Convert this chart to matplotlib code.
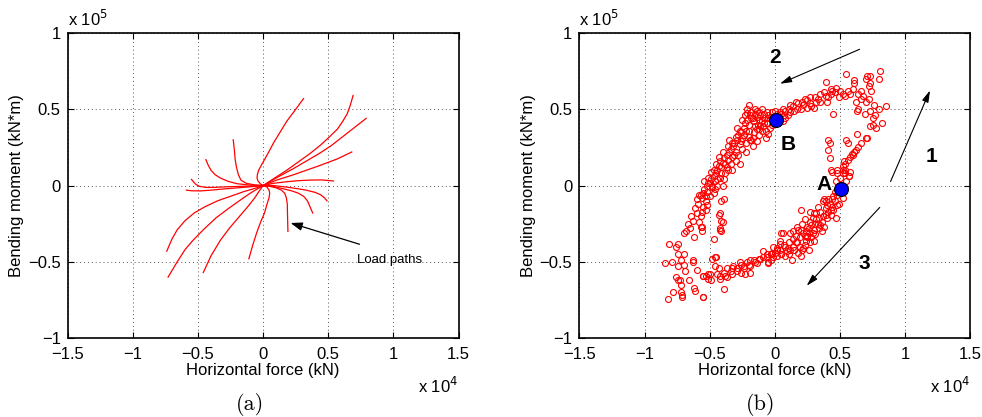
import matplotlib.pyplot as plt

# Load paths, panel (a): force in x 10^4 kN, moment in x 10^5 kN*m
path_ends = ["p1", "p2", "p3", "p4", "p5", "p6", "p7", "p8",
             "p9", "p10", "p11", "p12", "p13", "p14", "p15", "p16"]
load_paths = {
    "p1": [(0, 0), (-0.02, 0.01), (-0.04, 0.03), (-0.047, 0.05), (-0.045, 0.07), (-0.035, 0.10), (-0.01, 0.14),
           (0.03, 0.20), (0.08, 0.28), (0.13, 0.35), (0.18, 0.42), (0.25, 0.50), (0.31, 0.57)],
    "p2": [(0, 0), (0.08, 0.045), (0.18, 0.10), (0.27, 0.155), (0.36, 0.21), (0.44, 0.265), (0.51, 0.32),
           (0.57, 0.37), (0.61, 0.42), (0.645, 0.47), (0.67, 0.53), (0.69, 0.59)],
    "p3": [(0, 0), (0.1, 0.05), (0.23, 0.11), (0.33, 0.16), (0.43, 0.21), (0.52, 0.26), (0.61, 0.32),
           (0.70, 0.38), (0.79, 0.44)],
    "p4": [(0, 0), (0.1, 0.035), (0.23, 0.07), (0.33, 0.10), (0.43, 0.13), (0.57, 0.175), (0.68, 0.22)],
    "p5": [(0, 0), (0.08, 0.015), (0.18, 0.025), (0.27, 0.032), (0.36, 0.036), (0.45, 0.037), (0.54, 0.03)],
    "p6": [(0, 0), (0.08, 0.0), (0.18, -0.01), (0.26, -0.02), (0.33, -0.03), (0.40, -0.045), (0.44, -0.06),
           (0.47, -0.08), (0.49, -0.10)],
    "p7": [(0, 0), (0.07, -0.005), (0.15, -0.02), (0.22, -0.035), (0.27, -0.05), (0.31, -0.07), (0.34, -0.10),
           (0.36, -0.14), (0.38, -0.18)],
    "p8": [(0, 0), (0.05, -0.005), (0.10, -0.015), (0.14, -0.03), (0.165, -0.05), (0.178, -0.08),
           (0.185, -0.12), (0.187, -0.20), (0.19, -0.30)],
    "p9": [(0, 0), (0.03, -0.01), (0.045, -0.03), (0.05, -0.05), (0.045, -0.08), (0.03, -0.12), (0.01, -0.18),
           (-0.02, -0.24), (-0.05, -0.31), (-0.08, -0.39), (-0.11, -0.48)],
    "p10": [(0, 0), (-0.03, -0.035), (-0.06, -0.075), (-0.11, -0.13), (-0.18, -0.20), (-0.26, -0.28),
            (-0.33, -0.36), (-0.40, -0.46), (-0.46, -0.57)],
    "p11": [(0, 0), (-0.04, -0.02), (-0.09, -0.045), (-0.15, -0.08), (-0.25, -0.14), (-0.36, -0.21),
            (-0.46, -0.29), (-0.54, -0.36), (-0.60, -0.42), (-0.66, -0.50), (-0.73, -0.60)],
    "p12": [(0, 0), (-0.07, -0.02), (-0.15, -0.04), (-0.25, -0.07), (-0.35, -0.10), (-0.45, -0.14),
            (-0.53, -0.18), (-0.60, -0.23), (-0.66, -0.29), (-0.70, -0.35), (-0.74, -0.43)],
    "p13": [(0, 0), (-0.1, -0.008), (-0.2, -0.015), (-0.3, -0.022), (-0.4, -0.03), (-0.48, -0.035),
            (-0.55, -0.034), (-0.59, -0.03)],
    "p14": [(0, 0), (-0.12, -0.004), (-0.28, -0.008), (-0.38, -0.012), (-0.44, -0.012), (-0.49, -0.005),
            (-0.52, 0.01), (-0.55, 0.04)],
    "p15": [(0, 0), (-0.1, 0.003), (-0.2, 0.012), (-0.27, 0.028), (-0.33, 0.05), (-0.37, 0.072),
            (-0.40, 0.10), (-0.42, 0.13), (-0.44, 0.17)],
    "p16": [(0, 0), (-0.07, 0.005), (-0.13, 0.015), (-0.17, 0.035), (-0.19, 0.07), (-0.205, 0.12),
            (-0.215, 0.17), (-0.222, 0.24), (-0.23, 0.30)],
}

# Measured (force, moment) points, panel (b)
upper_left = [
    (-0.56, -0.08), (-0.55, -0.05), (-0.53, -0.10), (-0.58, -0.06), (-0.54, -0.02), (-0.52, -0.04),
    (-0.50, -0.07), (-0.52, 0.00), (-0.50, 0.02), (-0.48, 0.00), (-0.49, 0.04), (-0.47, 0.06),
    (-0.51, 0.05), (-0.46, 0.03), (-0.45, 0.08), (-0.44, 0.10), (-0.47, 0.10), (-0.43, 0.13),
    (-0.45, 0.14), (-0.41, 0.12), (-0.42, 0.16), (-0.40, 0.15), (-0.38, 0.14), (-0.39, 0.18),
    (-0.37, 0.20), (-0.36, 0.17), (-0.35, 0.22), (-0.33, 0.19), (-0.34, 0.24), (-0.32, 0.26),
    (-0.30, 0.22), (-0.31, 0.28), (-0.29, 0.30), (-0.27, 0.27), (-0.28, 0.33), (-0.26, 0.35),
    (-0.25, 0.31), (-0.24, 0.38), (-0.22, 0.36), (-0.23, 0.41), (-0.21, 0.43), (-0.20, 0.40),
    (-0.19, 0.46), (-0.17, 0.44), (-0.16, 0.42), (-0.18, 0.48), (-0.14, 0.45), (-0.12, 0.43),
    (-0.13, 0.40), (-0.10, 0.42), (-0.11, 0.46), (-0.08, 0.44), (-0.09, 0.39), (-0.06, 0.41),
    (-0.05, 0.44), (-0.04, 0.38), (-0.02, 0.40), (-0.03, 0.45), (-0.07, 0.36), (-0.14, 0.37),
    (-0.12, 0.33), (-0.20, 0.32), (-0.22, 0.28), (-0.25, 0.24), (-0.28, 0.20), (-0.34, 0.14),
    (-0.38, 0.08), (-0.42, 0.05), (-0.40, 0.00), (-0.36, 0.10), (-0.30, 0.16), (-0.18, 0.30),
    (-0.16, 0.35), (-0.10, 0.36), (-0.05, 0.34), (-0.02, 0.48), (-0.06, 0.48), (-0.15, 0.50),
    (-0.21, 0.50), (-0.20, 0.53), (-0.02, 0.44), (0.03, 0.45), (0.05, 0.47), (-0.05, 0.46),
    (0.00, 0.49), (-0.08, 0.47), (0.08, 0.44), (0.06, 0.42), (-0.10, 0.50), (-0.12, 0.48),
    (-0.15, 0.47), (-0.18, 0.44), (-0.14, 0.29), (-0.07, 0.31), (-0.19, 0.30), (-0.17, 0.31),
    (-0.21, 0.475), (-0.14, 0.49), (-0.33, 0.28), (-0.36, 0.26), (-0.30, 0.32), (-0.27, 0.36),
    (-0.44, 0.04), (-0.46, -0.02), (-0.41, 0.08), (-0.37, 0.12), (-0.31, 0.20), (-0.26, 0.29),
    (-0.24, 0.33), (-0.23, 0.46), (-0.20, 0.36), (-0.15, 0.39), (-0.11, 0.39), (-0.08, 0.41),
    (-0.51, 0.014), (-0.48, -0.008), (-0.57, -0.06), (-0.53, -0.07), (-0.55, -0.14), (-0.60, -0.18),
    (-0.57, -0.20), (-0.63, -0.23), (-0.67, -0.25), (-0.70, -0.31), (-0.62, -0.34), (-0.65, -0.28),
    (-0.59, -0.12), (-0.61, -0.15), (-0.52, -0.13), (-0.56, -0.17), (-0.58, -0.24), (-0.68, -0.30),
    (-0.49, 0.09), (-0.43, 0.19), (-0.40, 0.22), (-0.35, 0.30), (-0.29, 0.38), (-0.25, 0.43),
    (-0.47, -0.05), (-0.44, 0.00), (-0.39, 0.04), (-0.33, 0.10), (-0.27, 0.14), (-0.22, 0.22),
    (-0.17, 0.26), (-0.12, 0.37), (-0.54, 0.03), (-0.60, -0.09), (-0.64, -0.20), (-0.53, -0.16),
]

upper_right = [
    (0.07, 0.46), (0.12, 0.48), (0.17, 0.50), (0.21, 0.55), (0.25, 0.56), (0.27, 0.54),
    (0.31, 0.58), (0.35, 0.55), (0.39, 0.59), (0.43, 0.60), (0.46, 0.61), (0.50, 0.62),
    (0.54, 0.59), (0.43, 0.63), (0.38, 0.61), (0.32, 0.55), (0.27, 0.58), (0.22, 0.53),
    (0.18, 0.54), (0.14, 0.52), (0.11, 0.50), (0.08, 0.49), (0.04, 0.48), (0.02, 0.47),
    (0.20, 0.50), (0.25, 0.51), (0.30, 0.51), (0.35, 0.60), (0.40, 0.55), (0.45, 0.47),
    (0.44, 0.62), (0.52, 0.60), (0.49, 0.58), (0.28, 0.52), (0.16, 0.55), (0.12, 0.53),
    (0.10, 0.46), (0.06, 0.50), (0.15, 0.49), (0.23, 0.57), (0.33, 0.57), (0.41, 0.58),
    (0.47, 0.64), (0.56, 0.62), (0.58, 0.60), (0.60, 0.63), (0.64, 0.60), (0.66, 0.57),
    (0.55, 0.73), (0.71, 0.72), (0.73, 0.72), (0.81, 0.75), (0.80, 0.70), (0.61, 0.69),
    (0.61, 0.67), (0.72, 0.65), (0.73, 0.67), (0.66, 0.62), (0.39, 0.68), (0.72, 0.57),
    (0.70, 0.55), (0.76, 0.53), (0.85, 0.52), (0.80, 0.50), (0.64, 0.50), (0.63, 0.49),
    (0.73, 0.49), (0.69, 0.47), (0.75, 0.44), (0.75, 0.40), (0.73, 0.39), (0.82, 0.41),
    (0.74, 0.62), (0.70, 0.70), (0.77, 0.46), (0.78, 0.38), (0.68, 0.59), (0.62, 0.55),
]

right_branch = [
    (0.63, 0.34), (0.70, 0.31), (0.71, 0.31), (0.66, 0.28), (0.64, 0.25), (0.62, 0.23),
    (0.59, 0.21), (0.58, 0.19), (0.56, 0.17), (0.53, 0.16), (0.52, 0.13), (0.55, 0.30),
    (0.56, 0.28), (0.41, 0.30), (0.42, 0.28), (0.41, 0.23), (0.42, 0.18), (0.43, 0.10),
    (0.57, 0.06), (0.58, 0.09), (0.54, 0.10), (0.48, 0.10), (0.52, 0.08), (0.54, 0.08),
    (0.57, 0.06), (0.52, 0.10), (0.48, 0.08), (0.44, 0.09), (0.60, 0.20), (0.61, 0.22),
    (0.54, 0.14), (0.50, 0.05), (0.47, 0.03), (0.55, 0.03), (0.49, -0.02), (0.46, -0.04),
]

lower_right = [
    (0.48, -0.06), (0.46, -0.10), (0.49, -0.12), (0.44, -0.14), (0.41, -0.17), (0.39, -0.15),
    (0.35, -0.17), (0.40, -0.21), (0.34, -0.21), (0.30, -0.18), (0.27, -0.17), (0.36, -0.24),
    (0.31, -0.25), (0.27, -0.24), (0.23, -0.22), (0.21, -0.25), (0.30, -0.29), (0.26, -0.28),
    (0.25, -0.33), (0.22, -0.31), (0.18, -0.29), (0.17, -0.27), (0.14, -0.30), (0.27, -0.37),
    (0.23, -0.39), (0.21, -0.42), (0.20, -0.46), (0.14, -0.35), (0.11, -0.37), (0.07, -0.39),
    (0.06, -0.31), (0.12, -0.31), (0.14, -0.40), (0.10, -0.41), (0.04, -0.42), (0.00, -0.44),
    (-0.01, -0.40), (-0.03, -0.45), (-0.06, -0.47), (-0.09, -0.43), (0.13, -0.49), (0.26, -0.31),
    (0.34, -0.28), (0.38, -0.27), (0.43, -0.19), (0.45, -0.16), (0.48, -0.13), (0.52, -0.08),
    (0.47, -0.21), (0.38, -0.09), (0.37, -0.10), (0.41, -0.09), (0.39, -0.10), (0.20, -0.16),
    (0.33, -0.14), (0.37, -0.20), (0.32, -0.22), (0.28, -0.26), (0.24, -0.30), (0.19, -0.34),
    (0.16, -0.37), (0.09, -0.43), (0.05, -0.45), (0.02, -0.42), (0.05, -0.31), (0.04, -0.36),
    (0.17, -0.37), (0.25, -0.34), (0.26, -0.42), (0.30, -0.36), (0.20, -0.29), (0.22, -0.41),
    (0.42, -0.12), (0.44, -0.09), (0.40, -0.13), (0.29, -0.31), (0.33, -0.25), (0.36, -0.30),
    (0.45, -0.07), (0.43, -0.16), (0.39, -0.19), (0.35, -0.26), (0.31, -0.32), (0.28, -0.34),
    (0.24, -0.36), (0.19, -0.40), (0.15, -0.42), (0.11, -0.45), (0.08, -0.46), (0.16, -0.33),
    (0.29, -0.21), (0.32, -0.18), (0.25, -0.27), (0.23, -0.33), (0.18, -0.44), (0.02, -0.46),
]

lower_left = [
    (-0.46, -0.47), (-0.53, -0.59), (-0.51, -0.58), (-0.55, -0.73), (-0.39, -0.68), (-0.43, -0.54),
    (-0.42, -0.59), (-0.39, -0.57), (-0.37, -0.60), (-0.34, -0.56), (-0.32, -0.53), (-0.29, -0.56),
    (-0.26, -0.52), (-0.24, -0.54), (-0.21, -0.50), (-0.19, -0.53), (-0.16, -0.49), (-0.14, -0.51),
    (-0.11, -0.48), (-0.09, -0.47), (-0.05, -0.50), (-0.03, -0.45), (-0.01, -0.47), (0.02, -0.42),
    (0.05, -0.45), (0.08, -0.40), (0.12, -0.42), (-0.46, -0.53), (-0.33, -0.54), (-0.29, -0.54),
    (-0.27, -0.50), (-0.24, -0.53), (-0.20, -0.52), (-0.19, -0.49), (-0.15, -0.50), (-0.12, -0.48),
    (-0.06, -0.45), (-0.02, -0.44), (0.02, -0.41), (0.04, -0.38), (-0.03, -0.49), (-0.05, -0.51),
    (-0.26, -0.57), (-0.23, -0.58), (-0.19, -0.57), (-0.33, -0.58), (-0.44, -0.58), (-0.42, -0.61),
    (-0.38, -0.59), (-0.37, -0.54), (-0.50, -0.58), (-0.51, -0.61), (-0.55, -0.59), (-0.49, -0.62),
    (-0.81, -0.38), (-0.74, -0.38), (-0.76, -0.40), (-0.74, -0.45), (-0.70, -0.45), (-0.84, -0.51),
    (-0.79, -0.50), (-0.72, -0.49), (-0.74, -0.53), (-0.70, -0.52), (-0.69, -0.56), (-0.63, -0.49),
    (-0.63, -0.50), (-0.74, -0.62), (-0.73, -0.62), (-0.72, -0.65), (-0.66, -0.62), (-0.78, -0.70),
    (-0.82, -0.74), (-0.72, -0.70), (-0.71, -0.72), (-0.62, -0.67), (-0.61, -0.69), (-0.55, -0.73),
    (-0.55, -0.59), (-0.71, -0.73), (-0.76, -0.60), (-0.60, -0.55), (-0.45, -0.47),
]

inner_points = [
    (-0.42, -0.18), (-0.40, -0.24), (-0.42, -0.29), (-0.57, -0.27), (-0.56, -0.30), (-0.43, -0.19),
    (-0.41, -0.23), (-0.42, -0.28), (-0.41, -0.30), (-0.56, -0.27), (-0.39, -0.09), (-0.41, -0.10),
    (-0.47, -0.35), (-0.48, -0.48),
]

point_a = (0.51, -0.02)
point_b = (0.01, 0.43)

xticks = [-1.5, -1, -0.5, 0, 0.5, 1, 1.5]
yticks = [-1, -0.5, 0, 0.5, 1]
tick_labels_x = ["\u22121.5", "\u22121", "\u22120.5", "0", "0.5", "1", "1.5"]
tick_labels_y = ["\u22121", "\u22120.5", "0", "0.5", "1"]

plt.rcParams['font.family'] = ['Liberation Sans', 'DejaVu Sans']

fig = plt.figure(figsize=(9.82, 4.17), dpi=100)
ax1 = fig.add_axes([0.069, 0.189, 0.398, 0.732])
ax2 = fig.add_axes([0.590, 0.189, 0.398, 0.732])

for ax in (ax1, ax2):
    ax.set_xlim(-1.5, 1.5)
    ax.set_ylim(-1, 1)
    ax.set_xticks(xticks)
    ax.set_yticks(yticks)
    ax.set_xticklabels(tick_labels_x)
    ax.set_yticklabels(tick_labels_y)
    ax.tick_params(direction='in', length=4, labelsize=12, top=True, right=True, width=0.8)
    ax.tick_params(axis='x', pad=6)
    ax.tick_params(axis='y', pad=5)
    ax.grid(True, linestyle=(0, (1, 3)), color='#555555', linewidth=0.7)
    for s in ax.spines.values():
        s.set_linewidth(1.2)
    ax.set_xlabel("Horizontal force (kN)", fontsize=12, labelpad=1)
    ax.set_ylabel("Bending moment (kN*m)", fontsize=12, labelpad=3)
    ax.text(0.0, 1.012, r"x 10$^{5}$", transform=ax.transAxes, fontsize=12, ha='left', va='bottom')
    ax.text(1.0, -0.125, r"x 10$^{4}$", transform=ax.transAxes, fontsize=12, ha='right', va='top')

# panel (a)
for key in path_ends:
    xs = [p[0] for p in load_paths[key]]
    ys = [p[1] for p in load_paths[key]]
    ax1.plot(xs, ys, color='red', linewidth=0.9)

ax1.annotate("", xy=(0.19, -0.24), xytext=(0.76, -0.39),
             arrowprops=dict(arrowstyle='-|>,head_length=0.7,head_width=0.25', color='black', lw=0.9))
ax1.text(0.97, -0.49, "Load paths", fontsize=9.5, ha='center', va='center')

# panel (b)
for group in (upper_left, upper_right, right_branch, lower_right, lower_left, inner_points):
    xs = [p[0] for p in group]
    ys = [p[1] for p in group]
    ax2.plot(xs, ys, linestyle='none', marker='o', markersize=4.3, markerfacecolor='none',
             markeredgecolor='red', markeredgewidth=0.8)

for pt in (point_a, point_b):
    ax2.plot(pt[0], pt[1], marker='o', markersize=10, markerfacecolor='blue',
             markeredgecolor='black', markeredgewidth=0.8)

arrow_style = dict(arrowstyle='-|>,head_length=0.7,head_width=0.2', color='black', lw=0.8)
ax2.annotate("", xy=(1.20, 0.64), xytext=(0.88, 0.01), arrowprops=arrow_style)
ax2.annotate("", xy=(0.02, 0.66), xytext=(0.67, 0.90), arrowprops=arrow_style)
ax2.annotate("", xy=(0.23, -0.67), xytext=(0.82, -0.13), arrowprops=arrow_style)

ax2.text(0.0, 0.84, "2", fontsize=15, fontweight='bold', ha='center', va='center')
ax2.text(1.20, 0.19, "1", fontsize=15, fontweight='bold', ha='center', va='center')
ax2.text(0.69, -0.51, "3", fontsize=15, fontweight='bold', ha='center', va='center')
ax2.text(0.38, 0.01, "A", fontsize=15, fontweight='bold', ha='center', va='center')
ax2.text(0.10, 0.27, "B", fontsize=15, fontweight='bold', ha='center', va='center')

serif = ['cmr10', 'DejaVu Serif']
fig.text(250 / 982, 1 - 404 / 417, "(a)", fontsize=16, family=serif, ha='center', va='center')
fig.text(761 / 982, 1 - 404 / 417, "(b)", fontsize=16, family=serif, ha='center', va='center')

fig.savefig("out.png", dpi=100)
